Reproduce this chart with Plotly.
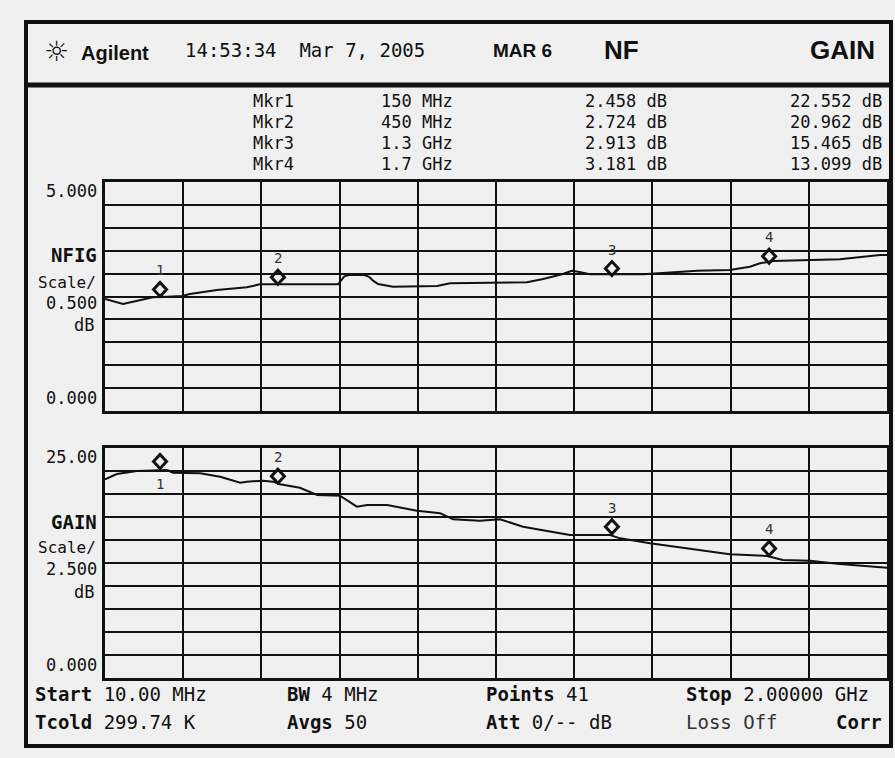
import plotly.graph_objects as go

# ---------------- data ----------------
nf_freq_mhz = [10, 56, 81, 132, 168, 206, 226, 295, 371, 404, 603, 611, 619, 630, 670, 682,
               693, 705, 743, 855, 888, 1084, 1125, 1173, 1198, 1214, 1244, 1379, 1415, 1517,
               1600, 1651, 1677, 1710, 1880, 1924, 1982, 2000]
nf_db = [2.445, 2.336, 2.386, 2.483, 2.496, 2.511, 2.555, 2.642, 2.701, 2.767, 2.767, 2.86,
         2.94, 2.97, 2.97, 2.93, 2.84, 2.773, 2.714, 2.729, 2.788, 2.810, 2.882, 2.985, 3.063,
         3.042, 2.985, 2.985, 3.007, 3.063, 3.079, 3.151, 3.225, 3.275, 3.312, 3.356, 3.406,
         3.406]

gain_freq_mhz = [10, 40, 91, 168, 183, 252, 303, 354, 371, 412, 438, 455, 506, 550, 608, 651,
                 677, 728, 804, 863, 896, 964, 1015, 1074, 1193, 1295, 1321, 1397, 1600, 1695,
                 1735, 1804, 1880, 2000]
gain_db = [21.6, 22.17, 22.50, 22.61, 22.32, 22.25, 21.88, 21.23, 21.34, 21.45, 21.34, 21.05,
           20.68, 19.89, 19.82, 18.62, 18.80, 18.80, 18.18, 17.90, 17.25, 17.10, 17.25, 16.45,
           15.54, 15.54, 15.18, 14.64, 13.45, 13.26, 12.83, 12.75, 12.39, 11.99]

mkr_names = ["Mkr1", "Mkr2", "Mkr3", "Mkr4"]
mkr_freq_mhz = [150, 450, 1300, 1700]
mkr_freq_text = ["150 MHz", "450 MHz", "1.3 GHz", "1.7 GHz"]
mkr_nf_db = [2.458, 2.724, 2.913, 3.181]
mkr_gain_db = [22.552, 20.962, 15.465, 13.099]

start_mhz, stop_mhz = 10, 2000
nf_range = [0, 5]
gain_range = [0, 25]

# ---------------- layout helpers ----------------
W, H = 895, 758
def px(x):
    return x / W
def py(y):
    return 1 - y / H

MONO = "DejaVu Sans Mono, monospace"
SANS = "Liberation Sans, Arial, sans-serif"
BG = "#f0f0f0"
INK = "#111111"

fig = go.Figure()
fig.add_trace(go.Scatter(x=nf_freq_mhz, y=nf_db, mode="lines",
                         line=dict(color=INK, width=2), xaxis="x", yaxis="y",
                         showlegend=False, hoverinfo="skip"))
fig.add_trace(go.Scatter(x=gain_freq_mhz, y=gain_db, mode="lines",
                         line=dict(color=INK, width=2), xaxis="x2", yaxis="y2",
                         showlegend=False, hoverinfo="skip"))

xdom = [px(105), px(887)]
ydom_nf = [py(411), py(182)]
ydom_gain = [py(678), py(448)]

axis_common = dict(showgrid=True, gridcolor=INK, gridwidth=2, showline=True, linecolor=INK,
                   linewidth=3, mirror=True, zeroline=False, showticklabels=False, ticks="",
                   fixedrange=True)
xstep = (stop_mhz - start_mhz) / 10
fig.update_layout(
    xaxis=dict(domain=xdom, range=[start_mhz, stop_mhz], tick0=start_mhz, dtick=xstep,
               anchor="y", **axis_common),
    yaxis=dict(domain=ydom_nf, range=nf_range, tick0=0, dtick=0.5, anchor="x", **axis_common),
    xaxis2=dict(domain=xdom, range=[start_mhz, stop_mhz], tick0=start_mhz, dtick=xstep,
                anchor="y2", **axis_common),
    yaxis2=dict(domain=ydom_gain, range=gain_range, tick0=0, dtick=2.5, anchor="x2",
                **axis_common),
)

shapes = []
# outer frame and header separator
shapes.append(dict(type="rect", xref="paper", yref="paper", x0=px(26), x1=px(891),
                   y0=py(746), y1=py(22), line=dict(color=INK, width=4)))
shapes.append(dict(type="line", xref="paper", yref="paper", x0=px(26), x1=px(891),
                   y0=py(85), y1=py(85), line=dict(color=INK, width=5)))

diamond = "M0,2 L6.5,9 L0,16 L-6.5,9 Z"
for f, v in zip(mkr_freq_mhz, mkr_nf_db):
    shapes.append(dict(type="path", xref="x", yref="y", xsizemode="pixel", ysizemode="pixel",
                       xanchor=f, yanchor=v, path=diamond,
                       line=dict(color=INK, width=3), fillcolor="rgba(0,0,0,0)"))
for f, v in zip(mkr_freq_mhz, mkr_gain_db):
    shapes.append(dict(type="path", xref="x2", yref="y2", xsizemode="pixel", ysizemode="pixel",
                       xanchor=f, yanchor=v, path=diamond,
                       line=dict(color=INK, width=3), fillcolor="rgba(0,0,0,0)"))

ann = []
def text(x, y, s, size=17, family=MONO, anchor="left", color=INK):
    ann.append(dict(x=px(x), y=py(y), xref="paper", yref="paper", text=s, showarrow=False,
                    xanchor=anchor, yanchor="middle",
                    font=dict(family=family, size=size, color=color)))

# header
text(42, 52, "☼", size=28, family="DejaVu Sans, sans-serif")
text(79, 53, "<b>Agilent</b>", size=20, family=SANS)
text(183, 50, "14:53:34  Mar 7, 2005", size=19)
text(491, 50, "<b>MAR 6</b>", size=19, family=SANS)
text(602, 50, "<b>NF</b>", size=26, family=SANS)
text(877, 50, "<b>GAIN</b>", size=26, family=SANS, anchor="right")

# marker table
row_y = [101, 122, 143, 164]
for i in range(4):
    y = row_y[i]
    text(251, y, mkr_names[i], size=17)
    text(455, y, mkr_freq_text[i], size=17, anchor="right")
    text(669, y, f"{mkr_nf_db[i]:.3f} dB", size=17, anchor="right")
    text(884, y, f"{mkr_gain_db[i]:.3f} dB", size=17, anchor="right")

# NF axis labels
text(99, 191, f"{nf_range[1]:.3f}", size=17, anchor="right")
text(99, 255, "<b>NFIG</b>", size=19, anchor="right")
text(98, 282, "Scale/", size=16, anchor="right")
text(99, 303, "0.500", size=17, anchor="right")
text(96, 325, "dB", size=17, anchor="right")
text(99, 398, f"{nf_range[0]:.3f}", size=17, anchor="right")

# Gain axis labels
text(99, 457, f"{gain_range[1]:.2f}", size=17, anchor="right")
text(99, 522, "<b>GAIN</b>", size=19, anchor="right")
text(98, 547, "Scale/", size=16, anchor="right")
text(99, 569, "2.500", size=17, anchor="right")
text(96, 592, "dB", size=17, anchor="right")
text(99, 665, f"{gain_range[0]:.3f}", size=17, anchor="right")

# footer
text(33, 694, "<b>Start</b> 10.00 MHz", size=19)
text(285, 694, "<b>BW</b> 4 MHz", size=19)
text(484, 694, "<b>Points</b> 41", size=19)
text(684, 694, "<b>Stop</b> 2.00000 GHz", size=19)
text(33, 722, "<b>Tcold</b> 299.74 K", size=19)
text(285, 722, "<b>Avgs</b> 50", size=19)
text(484, 722, "<b>Att</b> 0/-- dB", size=19)
text(684, 722, "Loss Off", size=19, color="#333333")
text(884, 722, "<b>Corr</b>", size=19, anchor="right")

# marker numbers
for i, (f, v) in enumerate(zip(mkr_freq_mhz, mkr_nf_db)):
    ann.append(dict(x=f, y=v, xref="x", yref="y", text=str(i + 1), showarrow=False,
                    yshift=28, font=dict(family=MONO, size=14, color="#333333")))
for i, (f, v) in enumerate(zip(mkr_freq_mhz, mkr_gain_db)):
    ann.append(dict(x=f, y=v, xref="x2", yref="y2", text=str(i + 1), showarrow=False,
                    yshift=(-13 if i == 0 else 28),
                    font=dict(family=MONO, size=14, color="#333333")))

fig.update_layout(width=W, height=H, autosize=False,
                  margin=dict(l=0, r=0, t=0, b=0, pad=0),
                  paper_bgcolor=BG, plot_bgcolor=BG,
                  shapes=shapes, annotations=ann, showlegend=False)

fig.write_html("out.html", config={"displayModeBar": False},
               post_script="document.body.style.margin='0';"
                           "document.body.style.background='#f0f0f0';")
